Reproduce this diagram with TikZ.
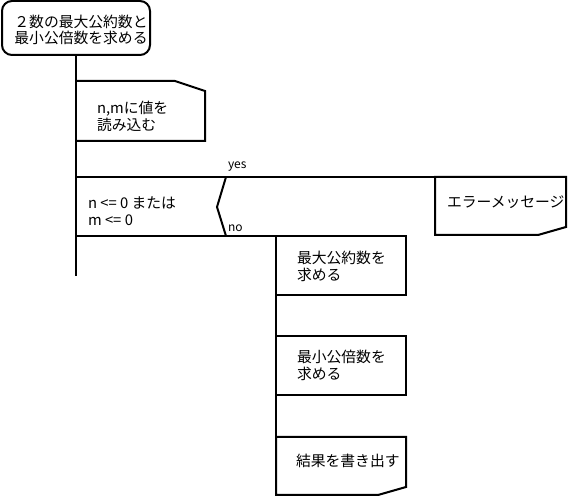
\documentclass[tikz,border=0pt]{standalone}
\usepackage{fontspec}
\newfontfamily\cjk{Noto Sans CJK JP}
\begin{document}
\begin{tikzpicture}[x=0.75pt,y=-0.75pt,line width=1.5pt,
  txt/.style={font=\cjk\fontsize{11.1}{12.75}\selectfont,align=left,inner sep=0,anchor=west},
  lbl/.style={font=\cjk\fontsize{9}{10}\selectfont,inner sep=0,anchor=west}]
\useasboundingbox (0,0) rectangle (568,498);
% start terminal
\node[draw,rounded corners=7.5pt,minimum width=111pt,minimum height=40.5pt,inner sep=0] (start) at (76,28) {};
\node[font=\cjk\fontsize{11.1}{11.4}\selectfont,align=left,inner sep=0] (starttext) at (81,30)
  {２数の最大公約数と\\最小公倍数を求める};
\coordinate (mainend) at (76,276);
\draw (start.south) -- (mainend);
% input box
\coordinate (in1) at (76,81);
\coordinate (in2) at (175,81);
\coordinate (in3) at (205,91);
\coordinate (in4) at (205,141);
\coordinate (in5) at (76,141);
\draw (in1) -- (in2) -- (in3) -- (in4) -- (in5);
\node[txt] (inp) at (96,116) {n,mに値を\\読み込む};
% decision
\coordinate (d1) at (76,177);
\coordinate (d2) at (76,236);
\coordinate (zt) at (226,177);
\coordinate (zm) at (217,207);
\coordinate (zb) at (226,236);
\coordinate (yesend) at (435,177);
\coordinate (noend) at (276,236);
\draw (d1) -- (yesend);
\draw (d2) -- (noend);
\draw (zt) -- (zm) -- (zb);
\node[txt] (cond) at (87,211) {n <= 0 または\\m <= 0};
\node[lbl] (yes) at (227,167) {yes};
\node[lbl] (no) at (227,228) {no};
% error output box
\draw (yesend) -- (566,177) -- (566,227) -- (538,235) -- (435,235) -- cycle;
\node[txt] (err) at (446,202) {エラーメッセージ};
% right column
\coordinate (rtop) at (276,236);
\coordinate (rbot) at (276,495);
\draw (rtop) -- (rbot);
\draw (276,236) rectangle (406,295);
\node[txt] (gcd) at (296,266) {最大公約数を\\求める};
\draw (276,336) rectangle (406,395);
\node[txt] (lcm) at (296,365) {最小公倍数を\\求める};
\draw (276,437) -- (406,437) -- (406,487) -- (378,495) -- (276,495) -- cycle;
\node[txt] (out) at (295,461) {結果を書き出す};
\end{tikzpicture}
\end{document}
